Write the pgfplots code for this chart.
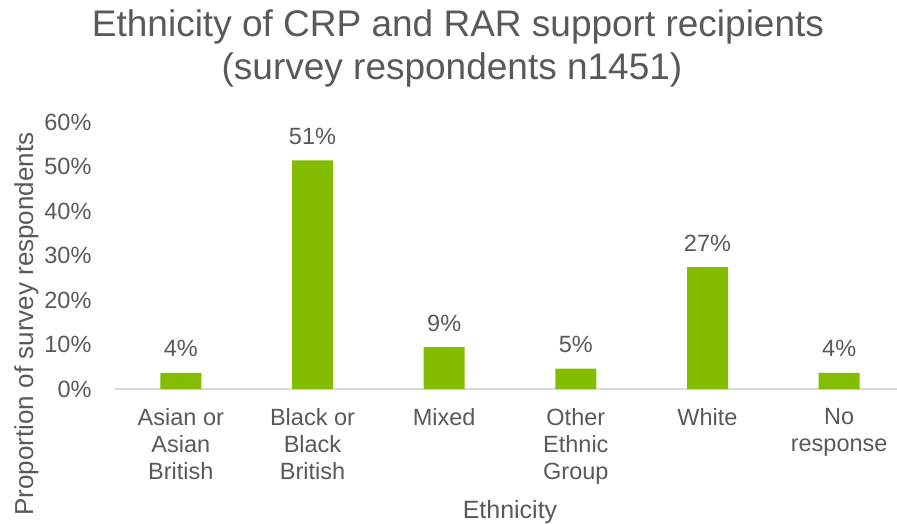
\documentclass[border=0pt]{standalone}
\usepackage{pgfplots}
\pgfplotsset{compat=1.18}
\usepackage{fontspec}
\setmainfont{Liberation Sans}
\definecolor{txt}{HTML}{595959}
\definecolor{bargreen}{HTML}{84BD00}
\definecolor{axgray}{HTML}{D9D9D9}
\pgfplotstableread{
x val
0 3.6
1 51.4
2 9.4
3 4.6
4 27.4
5 3.6
}\datatable
\begin{document}
\begin{tikzpicture}
\useasboundingbox (0pt,0pt) rectangle (897pt,-524pt);
\begin{axis}[
  at={(115pt,-389pt)}, anchor=south west,
  scale only axis, width=790pt, height=267pt,
  xmin=-0.5, xmax=5.5, ymin=0, ymax=60,
  axis x line*=bottom, axis y line*=left,
  y axis line style={draw=none},
  x axis line style={draw=axgray, line width=1.3pt},
  tick style={draw=none}, major tick length=0pt,
  /pgf/number format/assume math mode=true,
  ytick={0,10,20,30,40,50,60},
  yticklabel={\pgfmathprintnumber{\tick}\%},
  y tick label style={font=\fontsize{23.5}{27}\selectfont, text=txt, anchor=east, xshift=-20pt},
  xtick=data,
  xticklabels={{Asian or\\Asian\\British},{Black or\\Black\\British},{Mixed},{Other\\Ethnic\\Group},{White},{No\\response}},
  x tick label style={font=\fontsize{23.5}{27}\selectfont, text=txt, align=center, anchor=north, yshift=-19pt, inner sep=0pt},
  ybar, bar width=41pt,
  nodes near coords={\pgfmathprintnumber[fixed,precision=0]{\pgfplotspointmeta}\%},
  every node near coord/.append style={font=\fontsize{23.5}{27}\selectfont, text=txt, anchor=base, yshift=16pt, inner sep=0pt},
  clip=false,
]
\addplot[draw=none, fill=bargreen] table[x=x, y=val] {\datatable};
\end{axis}
\node[anchor=base, font=\fontsize{37}{43}\selectfont, text=txt, inner sep=0pt] at (458pt,-37pt) {Ethnicity of CRP and RAR support recipients};
\node[anchor=base, font=\fontsize{37}{43}\selectfont, text=txt, inner sep=0pt] at (452pt,-80pt) {(survey respondents n1451)};
\node[anchor=base, font=\fontsize{25}{30}\selectfont, text=txt, inner sep=0pt] at (510pt,-518pt) {Ethnicity};
\node[anchor=base, rotate=90, font=\fontsize{26}{30}\selectfont, text=txt, inner sep=0pt] at (33pt,-324pt) {Proportion of survey respondents};
\end{tikzpicture}
\end{document}
